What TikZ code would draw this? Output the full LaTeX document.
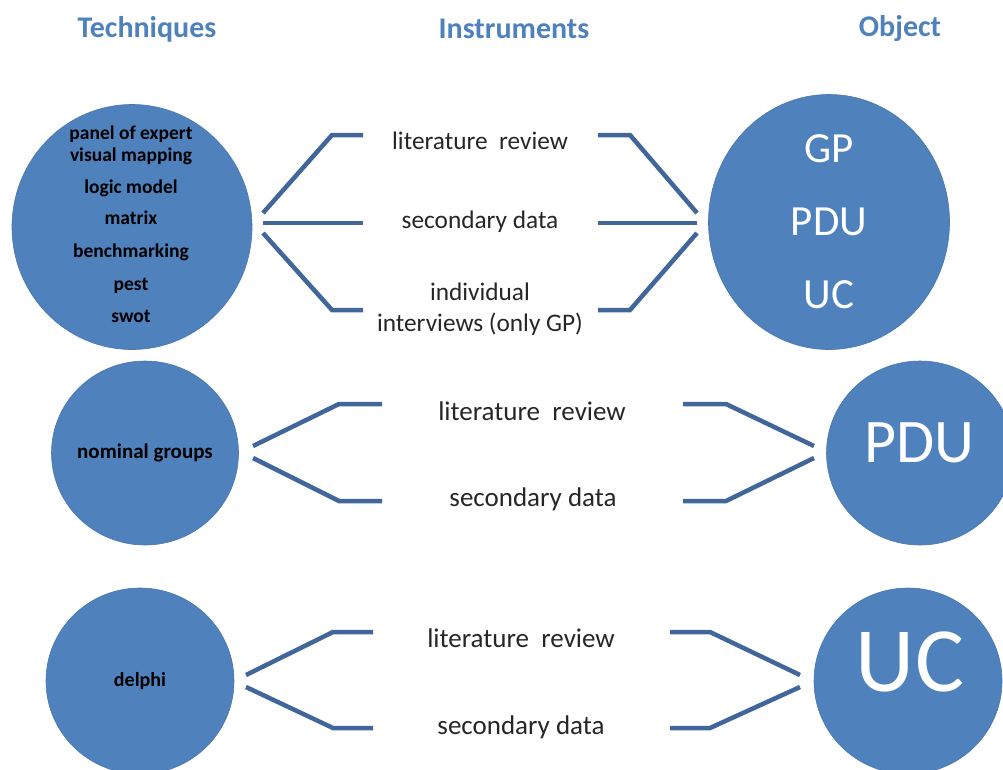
\documentclass[tikz,border=0pt]{standalone}
\usepackage{fontspec}
\setmainfont{Carlito}
\usepackage{tikz}
\usetikzlibrary{shapes.geometric}

\definecolor{shapeblue}{HTML}{4F81BD}
\definecolor{linkblue}{HTML}{41669A}
\definecolor{txtgray}{HTML}{262626}

\begin{document}
\begin{tikzpicture}[x=1pt, y=-1pt,
  header/.style={font=\bfseries\fontsize{30}{34}\selectfont, text=shapeblue},
  blob/.style={ellipse, draw=shapeblue!92!black, fill=shapeblue,
               line width=0.6pt, inner sep=0pt},
  techtext/.style={font=\bfseries\fontsize{19.5}{22}\selectfont, align=center},
  objtext/.style={text=white, align=center},
  instr/.style={font=\fontsize{25.3}{31}\selectfont, text=txtgray, align=center},
  instrbig/.style={instr, font=\fontsize{27}{31}\selectfont},
  link/.style={draw=linkblue, line width=4.5pt},
]
  \useasboundingbox (0,0) rectangle (1003,769);

  % column headers
  \node[header] (hTech) at (147,29) {Techniques};
  \node[header] (hInst) at (514,29) {Instruments};
  \node[header] (hObj)  at (900,29) {Object};

  % techniques
  \node[blob, minimum width=240pt, minimum height=245pt] (tech1) at (132,227) {};
  \node[techtext] (tech1txt) at (131,224)
    {panel of expert\\visual mapping\\[10pt]logic model\\[9pt]matrix\\[11pt]benchmarking\\[11pt]pest\\[10pt]swot};
  \node[blob, minimum width=187pt, minimum height=184pt] (tech2) at (145,453) {};
  \node[techtext, font=\bfseries\fontsize{21}{24}\selectfont] (tech2txt) at (tech2) {nominal groups};
  \node[blob, minimum width=188pt, minimum height=186pt] (tech3) at (140,681) {};
  \node[techtext, font=\bfseries\fontsize{20}{24}\selectfont] (tech3txt) at (tech3) {delphi};

  % objects
  \node[blob, minimum width=241pt, minimum height=255pt] (obj1) at (829,222) {};
  \node[objtext, font=\fontsize{43}{73}\selectfont] (obj1txt) at (829,222) {GP\\PDU\\UC};
  \node[blob, minimum width=187pt, minimum height=184pt] (obj2) at (920,453) {};
  \node[objtext, font=\fontsize{62}{70}\selectfont] (obj2txt) at (919,443) {PDU};
  \node[blob, minimum width=188pt, minimum height=186pt] (obj3) at (908,681) {};
  \node[objtext, font=\fontsize{92}{100}\selectfont] (obj3txt) at (910,662) {UC};

  % instruments
  \node[instr] (lit1) at (480,141) {literature\ \ review};
  \node[instr] (sec1) at (480,222) {secondary data};
  \node[instr] (ind1) at (480,309) {individual\\interviews (only GP)};
  \node[instrbig] (lit2) at (532,411) {literature\ \ review};
  \node[instrbig] (sec2) at (533,499) {secondary data};
  \node[instrbig] (lit3) at (521,638) {literature\ \ review};
  \node[instrbig] (sec3) at (521,727) {secondary data};

  % bracket junctions
  \coordinate (j1L) at (263,223);
  \coordinate (j1R) at (697,223);
  \coordinate (j2L) at (253,452);
  \coordinate (j2R) at (814,452);
  \coordinate (j3L) at (246,681);
  \coordinate (j3R) at (800,681);

  % first row
  \draw[link] ([yshift=10pt]j1L) -- ++(69,-78) -- ++(31,0);
  \draw[link] (j1L) -- ++(100,0);
  \draw[link] ([yshift=-10pt]j1L) -- ++(69,77) -- ++(31,0);
  \draw[link] ([yshift=10pt]j1R) -- ++(-67,-78) -- ++(-32,0);
  \draw[link] (j1R) -- ++(-99,0);
  \draw[link] ([yshift=-10pt]j1R) -- ++(-67,77) -- ++(-32,0);

  % second row
  \draw[link] ([yshift=6pt]j2L) -- ++(86,-42) -- ++(43,0);
  \draw[link] ([yshift=-6pt]j2L) -- ++(86,43) -- ++(43,0);
  \draw[link] ([yshift=6pt]j2R) -- ++(-88,-42) -- ++(-43,0);
  \draw[link] ([yshift=-6pt]j2R) -- ++(-88,43) -- ++(-43,0);

  % third row
  \draw[link] ([yshift=6pt]j3L) -- ++(87,-43) -- ++(40,0);
  \draw[link] ([yshift=-6pt]j3L) -- ++(87,41) -- ++(40,0);
  \draw[link] ([yshift=6pt]j3R) -- ++(-90,-43) -- ++(-40,0);
  \draw[link] ([yshift=-6pt]j3R) -- ++(-90,41) -- ++(-40,0);
\end{tikzpicture}
\end{document}
